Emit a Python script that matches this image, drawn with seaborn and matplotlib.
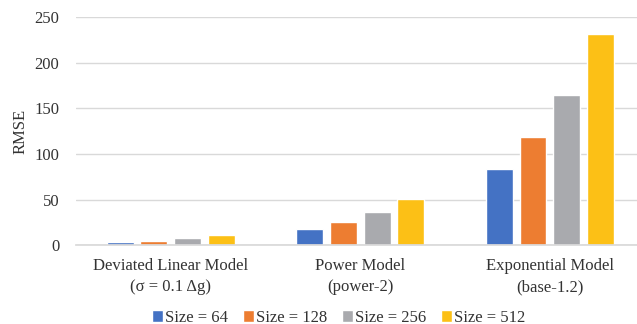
import matplotlib
matplotlib.use("Agg")
import matplotlib.pyplot as plt
import seaborn as sns
import pandas as pd

models = ["Deviated Linear Model\n(σ = 0.1 Δg)", "Power Model\n(power-2)", "Exponential Model\n(base-1.2)"]
sizes = ["Size = 64", "Size = 128", "Size = 256", "Size = 512"]
rmse_64 = [3.3, 17.5, 83.3]
rmse_128 = [5.0, 25.5, 118.4]
rmse_256 = [7.7, 36.5, 165.0]
rmse_512 = [11.3, 51.0, 232.0]
colors = ["#4472C4", "#ED7D31", "#A9AAAE", "#FCC016"]

rows = []
for size, vals in zip(sizes, [rmse_64, rmse_128, rmse_256, rmse_512]):
    for m, v in zip(models, vals):
        rows.append({"Model": m, "Size": size, "RMSE": v})
df = pd.DataFrame(rows)

sns.set_theme(style="white")
plt.rcParams["font.family"] = ["Liberation Serif", "DejaVu Serif"]
text_color = "#333333"
fs = 12

fig = plt.figure(figsize=(6.37, 3.24), dpi=100)
ax = fig.add_axes([0.1193, 0.243, 0.8807, 0.7036])

sns.barplot(data=df, x="Model", y="RMSE", hue="Size", order=models, hue_order=sizes,
            palette=colors, width=0.71, gap=0.2, ax=ax, legend=True, saturation=1)

ax.set_ylim(0, 250)
ax.set_xlim(-0.5, 2.46)
ax.set_yticks([0, 50, 100, 150, 200, 250])
ax.yaxis.grid(True, color="#D9D9D9", linewidth=1)
ax.set_axisbelow(True)
for s in ["top", "right", "left"]:
    ax.spines[s].set_visible(False)
ax.spines["bottom"].set_color("#D9D9D9")
ax.tick_params(axis="both", length=0, labelsize=fs, colors=text_color)
ax.tick_params(axis="y", pad=12)
ax.tick_params(axis="x", pad=9)
for lbl in ax.get_xticklabels():
    lbl.set_linespacing(1.45)
ax.set_xlabel("")
ax.set_ylabel("RMSE", fontsize=fs, color=text_color, labelpad=4)

handles, labels = ax.get_legend_handles_labels()
ax.legend(handles, labels, loc="center", bbox_to_anchor=(0.532, 0.02),
          bbox_transform=fig.transFigure,
          ncol=4, frameon=False, fontsize=fs, handlelength=0.65, handleheight=0.75,
          handletextpad=0.15, columnspacing=0.87, labelcolor=text_color)

fig.savefig("out.png", dpi=100)
